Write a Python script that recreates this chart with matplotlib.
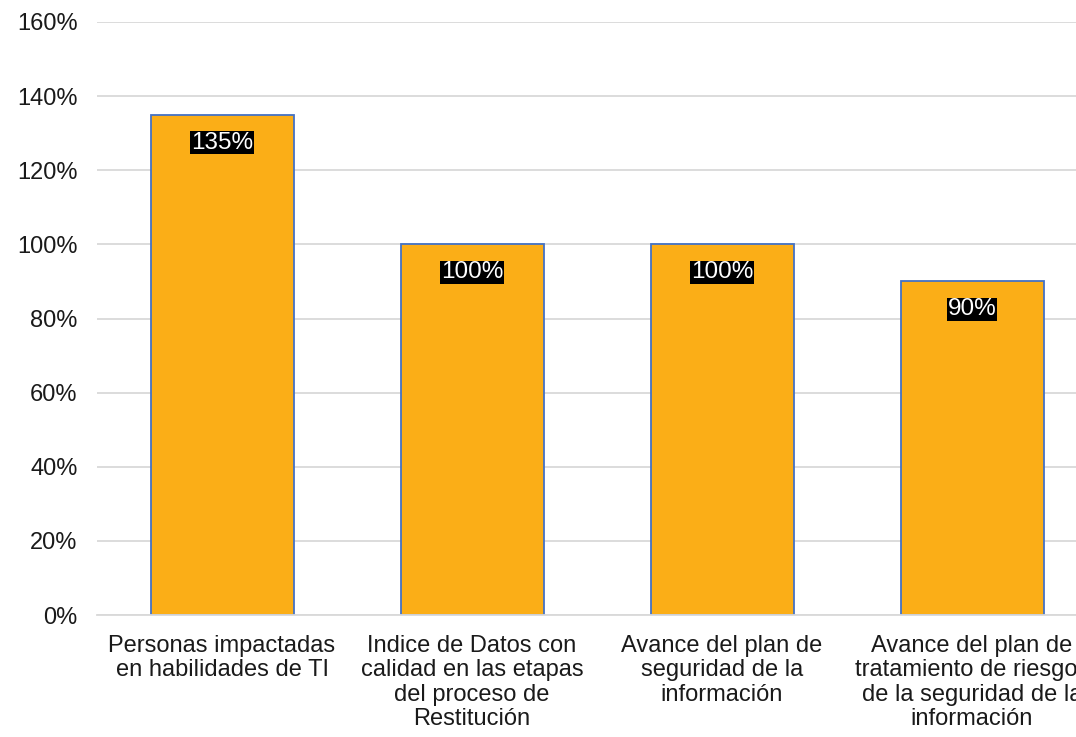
import matplotlib.pyplot as plt
from matplotlib.ticker import PercentFormatter

plt.rcParams['font.family'] = ['Liberation Sans', 'DejaVu Sans']

# ---------- data ----------
categories = [
    'Personas impactadas\nen habilidades de TI',
    'Indice de Datos con\ncalidad en las etapas\ndel proceso de\nRestitución',
    'Avance del plan de\nseguridad de la\ninformación',
    'Avance del plan de\ntratamiento de riesgos\nde la seguridad de la\ninformación',
]
values = [135, 100, 100, 90]
value_labels = ['135%', '100%', '100%', '90%']

bar_color = '#FBAE17'
edge_color = '#4472C4'
grid_color = '#D9D9D9'
text_color = '#1a1a1a'

fig = plt.figure(figsize=(10.76, 7.37), dpi=100)
# plot area runs past the right edge of the figure, as in the reference
ax = fig.add_axes([97 / 1076, 122 / 737, 1000 / 1076, 593 / 737])

x = range(len(categories))
bars = ax.bar(x, values, width=0.572, color=bar_color, edgecolor=edge_color,
              linewidth=1.3, zorder=2)

for b, lab in zip(bars, value_labels):
    ax.annotate(lab, (b.get_x() + b.get_width() / 2, b.get_height()),
                xytext=(0, -28), textcoords='offset pixels',
                ha='center', va='center', fontsize=17.5, color='white',
                bbox=dict(boxstyle='square,pad=0.03', fc='black', ec='none'),
                zorder=3)

ax.set_xlim(-0.5, len(categories) - 0.5)
ax.set_ylim(0, 160)
ax.set_yticks(range(0, 161, 20))
ax.yaxis.set_major_formatter(PercentFormatter(decimals=0))
ax.set_xticks(list(x))
ax.set_xticklabels(categories, linespacing=1.13)

ax.grid(axis='y', color=grid_color, linewidth=1.3, zorder=0)
ax.set_axisbelow(True)
for s in ['top', 'right', 'left']:
    ax.spines[s].set_visible(False)
ax.spines['bottom'].set_color(grid_color)
ax.spines['bottom'].set_linewidth(1.3)

ax.tick_params(axis='both', length=0, labelsize=17, colors=text_color)
ax.tick_params(axis='y', pad=14)
ax.tick_params(axis='x', pad=14.5)

fig.savefig('out.png', dpi=100)
